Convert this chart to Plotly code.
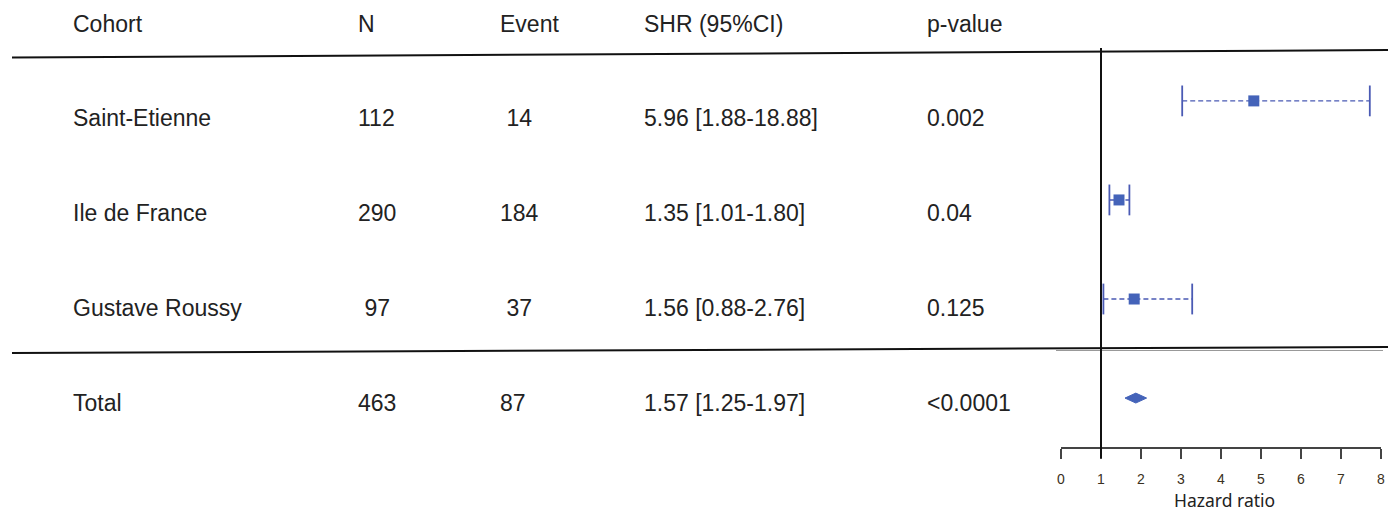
import plotly.graph_objects as go

# ---- data ----
headers = ["Cohort", "N", "Event", "SHR (95%CI)", "p-value"]
cohorts = ["Saint-Etienne", "Ile de France", "Gustave Roussy", "Total"]
n_vals = ["112", "290", "\u00a097", "463"]
events = ["\u00a014", "184", "\u00a037", "87"]
shr_text = ["5.96 [1.88-18.88]", "1.35 [1.01-1.80]", "1.56 [0.88-2.76]", "1.57 [1.25-1.97]"]
p_vals = ["0.002", "0.04", "0.125", "<0.0001"]

# plotted estimates
hr_est = [4.82, 1.45, 1.83, 1.87]
hr_lo = [3.03, 1.21, 1.06, 1.60]
hr_hi = [7.72, 1.71, 3.28, 2.14]
x_ticks = [0, 1, 2, 3, 4, 5, 6, 7, 8]

W, H = 1388, 514
def px(x): return x / W
def py(y): return 1 - y / H

TXT = "#222222"
BLUE = "#4463B9"
CI_COL = "#4A5AB4"
FONT = "Liberation Sans, Arial, sans-serif"
FS = 23

fig = go.Figure()

n_studies = 3
rows = list(range(len(cohorts)))

# CI dashed lines and caps for the studies
for i in range(n_studies):
    fig.add_trace(go.Scatter(
        x=[hr_lo[i], hr_hi[i]], y=[rows[i], rows[i]], mode="lines",
        line=dict(color=CI_COL, width=1.4, dash="5px,3px"),
        hoverinfo="skip", showlegend=False))
fig.add_trace(go.Scatter(
    x=hr_lo[:n_studies] + hr_hi[:n_studies], y=rows[:n_studies] * 2, mode="markers",
    marker=dict(symbol="line-ns-open", size=22, color=CI_COL, line=dict(color=CI_COL, width=1.8)),
    hoverinfo="skip", showlegend=False))
fig.add_trace(go.Scatter(
    x=hr_est[:n_studies], y=rows[:n_studies], mode="markers",
    marker=dict(symbol="square", size=11, color=BLUE),
    showlegend=False))

# summary diamond
t = len(cohorts) - 1
hh = 0.05
fig.add_trace(go.Scatter(
    x=[hr_lo[t], hr_est[t], hr_hi[t], hr_est[t], hr_lo[t]],
    y=[rows[t], rows[t] - hh, rows[t], rows[t] + hh, rows[t]],
    mode="lines", fill="toself", fillcolor=BLUE, line=dict(color=BLUE, width=1),
    showlegend=False))

# table text
col_x = [71, 356, 498, 642, 925]
row_y = [118, 213, 308, 403]
for j, h in enumerate(headers):
    fig.add_annotation(x=px(col_x[j]), y=py(24), xref="paper", yref="paper",
                       text=h, showarrow=False, xanchor="left", yanchor="middle",
                       font=dict(family=FONT, size=FS, color=TXT))
cols = [cohorts, n_vals, events, shr_text, p_vals]
for j, col in enumerate(cols):
    for i, v in enumerate(col):
        fig.add_annotation(x=px(col_x[j]), y=py(row_y[i]), xref="paper", yref="paper",
                           text=v, showarrow=False, xanchor="left", yanchor="middle",
                           font=dict(family=FONT, size=FS, color=TXT))

fig.add_annotation(x=px(1224), y=py(500), xref="paper", yref="paper",
                   text="Hazard ratio", showarrow=False, xanchor="center", yanchor="middle",
                   font=dict(family="Noto Sans, sans-serif", size=17.5, color="#222222"))

# rules
shapes = [
    dict(type="line", xref="paper", yref="paper", x0=px(12), y0=py(57.5), x1=px(1388), y1=py(50),
         line=dict(color="#111111", width=2)),
    dict(type="line", xref="paper", yref="paper", x0=px(12), y0=py(353), x1=px(1388), y1=py(347),
         line=dict(color="#111111", width=2)),
    dict(type="line", xref="paper", yref="paper", x0=px(1056), y0=py(350.5), x1=px(1383), y1=py(350.5),
         line=dict(color="#999999", width=1)),
    dict(type="line", xref="x", yref="paper", x0=1, x1=1, y0=py(48), y1=py(458),
         line=dict(color="#111111", width=2)),
]

fig.update_layout(
    width=W, height=H, margin=dict(l=0, r=0, t=0, b=0, autoexpand=False),
    paper_bgcolor="white", plot_bgcolor="white",
    shapes=shapes,
    xaxis=dict(domain=[px(1061), px(1381)], range=[0, 8], tickvals=x_ticks, automargin=False,
               showgrid=False, zeroline=False, showline=True, linecolor="#444444", linewidth=1.5,
               ticks="outside", ticklen=10, tickwidth=1.5, tickcolor="#444444",
               ticklabelstandoff=8,
               tickfont=dict(family=FONT, size=14, color="#3a3020")),
    yaxis=dict(domain=[py(447), py(48)], range=[3.494, -0.534], visible=False, automargin=False,
               showgrid=False, zeroline=False),
)

fig.write_html("out.html", config={"displayModeBar": False},
               post_script="document.body.style.margin='0';document.body.style.overflow='hidden';")
